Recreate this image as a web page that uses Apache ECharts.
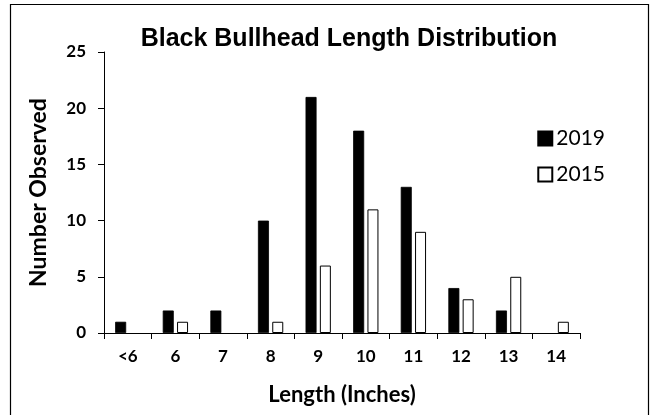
<!DOCTYPE html>
<html><head><meta charset="utf-8">
<script src="https://cdn.jsdelivr.net/npm/echarts@6/dist/echarts.min.js"></script>
<style>html,body{margin:0;padding:0;background:#fff}#c{width:650px;height:415px}</style>
</head><body><div id="c"></div>
<script>
const categories = ['<6','6','7','8','9','10','11','12','13','14'];
const values2019 = [1,2,2,10,21,18,13,4,2,0];
const values2015 = [0,1,0,1,6,11,9,3,5,1];
const yTicks = {min:0, max:25, interval:5};
const titleText = 'Black Bullhead Length Distribution';

const hideZero = arr => arr.map(v => v === 0 ? '-' : v);
const chart = echarts.init(document.getElementById('c'), null, {renderer:'canvas'});
const lblFont = 'Lato, "Open Sans", sans-serif';
chart.setOption({
  animation:false,
  backgroundColor:'#fff',
  graphic:[{type:'rect', shape:{x:10.5,y:4.5,width:638,height:420}, style:{fill:'none',stroke:'#000',lineWidth:1.2}, z:-1}],
  title:{text:titleText, left:344, top:22, textAlign:'center',
    textStyle:{fontFamily:'"Liberation Sans", Arial, sans-serif', fontWeight:'bold', fontSize:25, color:'#000'}},
  legend:{right:40, top:123, orient:'vertical', itemGap:15, itemWidth:14, itemHeight:14,
    textStyle:{fontFamily:lblFont, fontSize:21, color:'#000', padding:[0,0,0,-1]},
    data:[{name:'2019', icon:'rect'},{name:'2015', icon:'rect'}]},
  grid:{left:104, right:70, top:52, bottom:82},
  xAxis:{type:'category', data:categories,
    axisLine:{lineStyle:{color:'#000',width:1}},
    axisTick:{show:true, alignWithLabel:false, length:6, inside:false, lineStyle:{color:'#000'}},
    axisLabel:{fontFamily:lblFont, fontWeight:'bold', fontSize:17, color:'#000', margin:15},
    name:'Length (Inches)', nameLocation:'middle', nameGap:51,
    nameTextStyle:{fontFamily:lblFont, fontWeight:'bold', fontSize:22, color:'#000'}},
  yAxis:{type:'value', min:yTicks.min, max:yTicks.max, interval:yTicks.interval,
    splitLine:{show:false},
    axisLine:{show:true, lineStyle:{color:'#000',width:1}},
    axisTick:{show:true, length:6, lineStyle:{color:'#000'}},
    axisLabel:{fontFamily:lblFont, fontWeight:'bold', fontSize:17, color:'#000', margin:18},
    name:'Number Observed', nameLocation:'middle', nameGap:54, nameRotate:90,
    nameTextStyle:{fontFamily:lblFont, fontWeight:'bold', fontSize:23, color:'#000'}},
  series:[
    {name:'2019', type:'bar', data:hideZero(values2019), barWidth:11, barGap:'30%',
      itemStyle:{color:'#000', borderColor:'#000', borderWidth:0.8}},
    {name:'2015', type:'bar', data:hideZero(values2015), barWidth:11,
      itemStyle:{color:'#fff', borderColor:'#000', borderWidth:1}}
  ]
});
</script></body></html>
